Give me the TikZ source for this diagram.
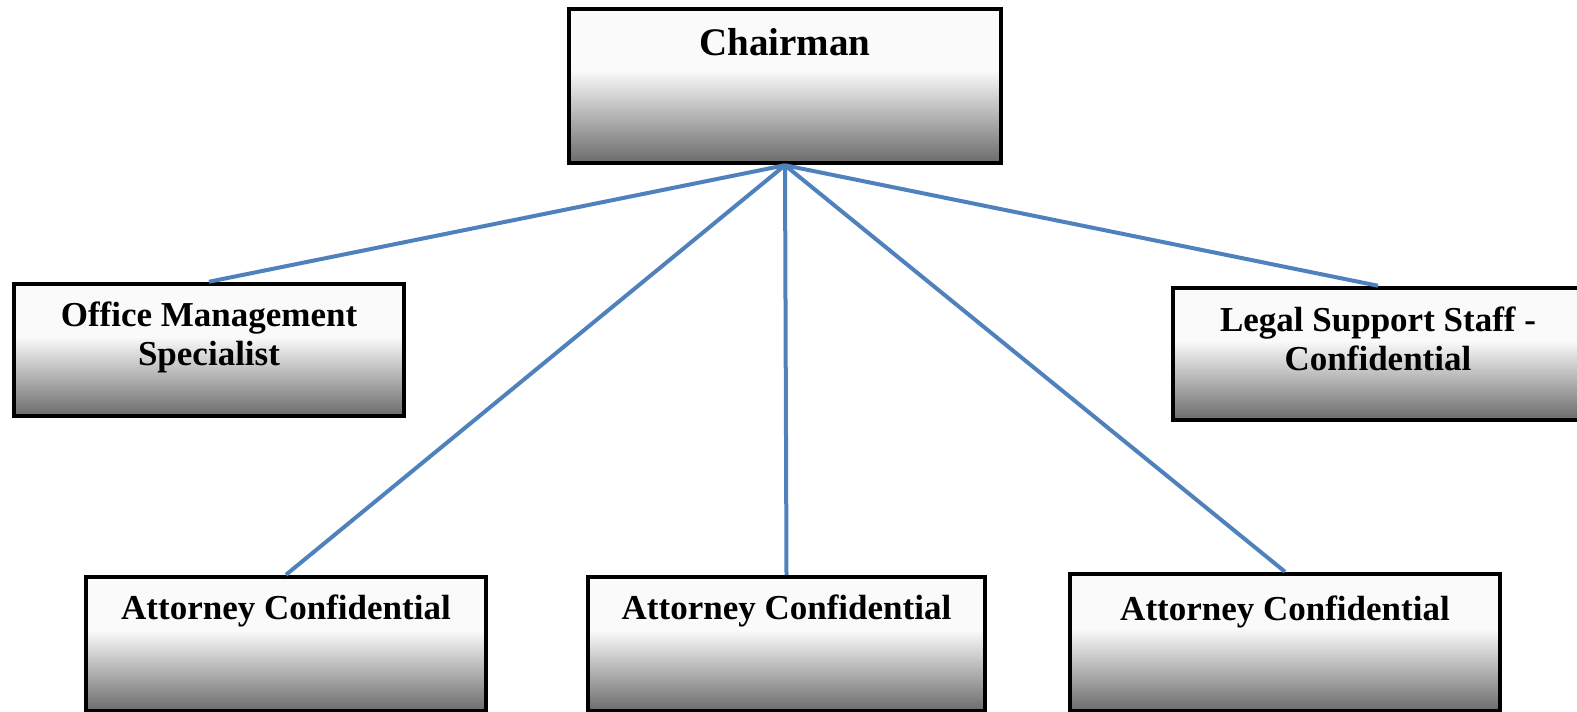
\documentclass[tikz,border=0pt]{standalone}
\usepackage{fontspec}
\setmainfont{Liberation Serif}

\definecolor{linkblue}{RGB}{79,129,189}
\pgfdeclareverticalshading{boxfade}{100bp}{color(0bp)=(black!58); color(25bp)=(black!58);
    color(55bp)=(white!98!black); color(100bp)=(white!98!black)}

\tikzset{
    orgbox/.style={draw=black, line width=4.5pt, shade, shading=boxfade,
        inner sep=0pt, align=center, font=\bfseries\fontsize{35}{39}\selectfont},
    link/.style={draw=linkblue, line width=4pt}
}

\begin{document}
\begin{tikzpicture}[x=1pt,y=-1pt]

    % page is 1577 x 712
    \useasboundingbox (0,0) rectangle (1577,712);
    \clip (0,0) rectangle (1577,712);

    % top
    \node[orgbox, minimum width=432pt, text height=46pt, text depth=108pt,
        font=\bfseries\fontsize{39}{42}\selectfont] (chair) at (785,86) {Chairman};

    % middle row (baseline is the last line)
    \node[orgbox, minimum width=390pt, text height=81pt, text depth=51pt]
        (office) at (209,350) {Office Management\\Specialist};
    \node[orgbox, minimum width=410pt, text height=82pt, text depth=50pt]
        (legal) at (1378,354) {Legal Support Staff -\\Confidential};

    % bottom row, cut by the page edge
    \node[orgbox, minimum width=400pt, text height=42pt, text depth=92pt]
        (att1) at (286,644) {Attorney Confidential};
    \node[orgbox, minimum width=397pt, text height=42pt, text depth=92pt]
        (att2) at (786.5,644) {Attorney Confidential};
    \node[orgbox, minimum width=430pt, text height=46pt, text depth=91pt]
        (att3) at (1285,642.5) {Attorney Confidential};

    % links
    \draw[link] (chair.south) -- (office.north);
    \draw[link] (chair.south) -- (legal.north);
    \draw[link] (chair.south) -- (att1.north);
    \draw[link] (chair.south) -- (att2.north);
    \draw[link] (chair.south) -- (att3.north);

\end{tikzpicture}
\end{document}
